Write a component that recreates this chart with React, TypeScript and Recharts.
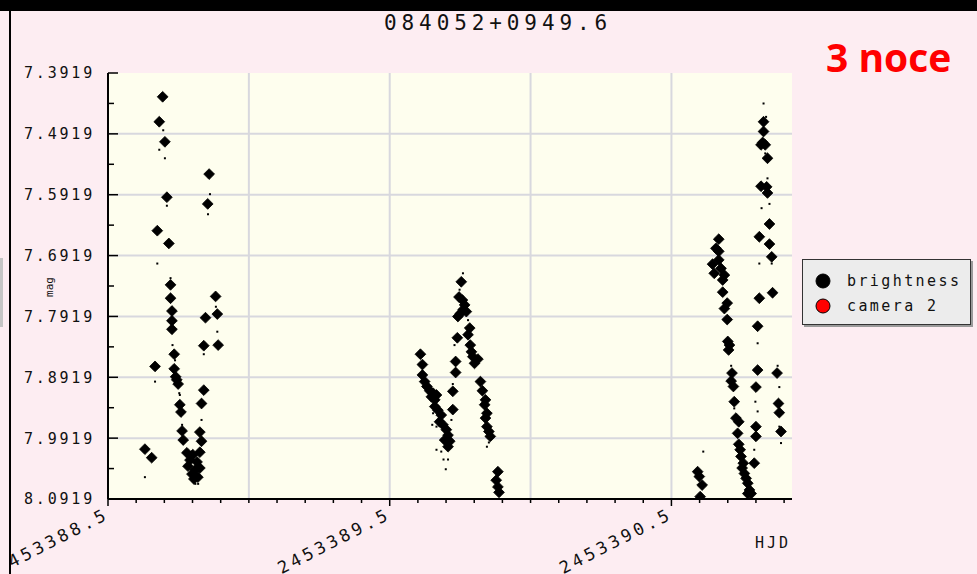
import React from 'react';
import { ScatterChart, Scatter, XAxis, YAxis, CartesianGrid, Legend } from 'recharts';

// HJD values are stored as offsets from this base day
const HJD_BASE = 2453388;
const X_DOMAIN: [number, number] = [0.5, 2.928];
const Y_DOMAIN: [number, number] = [7.3919, 8.0919];

const xTicks = [0.5, 0.6, 0.7, 0.8, 0.9, 1.0, 1.1, 1.2, 1.3, 1.4, 1.5, 1.6, 1.7, 1.8, 1.9, 2.0, 2.1, 2.2, 2.3, 2.4, 2.5, 2.6, 2.7, 2.8, 2.9];
const xMajorTicks = [0.5, 1.5, 2.5];
const xGridValues = [1.0, 1.5, 2.0, 2.5];

const yTicks = [7.3919, 7.4419, 7.4919, 7.5419, 7.5919, 7.6419, 7.6919, 7.7419, 7.7919, 7.8419, 7.8919, 7.9419, 7.9919, 8.0419, 8.0919];
const yMajorTicks = [7.3919, 7.4919, 7.5919, 7.6919, 7.7919, 7.8919, 7.9919, 8.0919];
const yGridValues = [7.4919, 7.5919, 7.6919, 7.7919, 7.8919, 7.9919];

const seriesNames = ['brightness', 'camera 2'];

// night 1 — brightness (large markers)
const night1Brightness: [number, number][] = [
  [0.694, 7.431], [0.682, 7.472], [0.702, 7.505], [0.859, 7.558], [0.709, 7.596], [0.854, 7.607],
  [0.675, 7.651], [0.716, 7.672], [0.722, 7.740], [0.722, 7.762], [0.882, 7.759], [0.727, 7.783],
  [0.888, 7.788], [0.727, 7.799], [0.846, 7.794], [0.727, 7.813], [0.840, 7.840], [0.891, 7.839],
  [0.735, 7.854], [0.667, 7.874], [0.735, 7.878], [0.740, 7.891], [0.744, 7.896], [0.749, 7.903],
  [0.840, 7.913], [0.755, 7.937], [0.832, 7.935], [0.759, 7.949], [0.763, 7.980], [0.767, 7.995],
  [0.826, 7.982], [0.832, 7.997], [0.631, 8.010], [0.655, 8.024], [0.780, 8.016], [0.801, 8.019],
  [0.826, 8.015], [0.791, 8.028], [0.816, 8.031], [0.784, 8.038], [0.809, 8.044], [0.826, 8.041],
  [0.798, 8.051], [0.819, 8.056], [0.805, 8.059],
];
// night 1 — single measurements (small dots)
const night1Single: [number, number][] = [
  [0.696, 7.486], [0.682, 7.518], [0.702, 7.532], [0.862, 7.591], [0.855, 7.624], [0.709, 7.610],
  [0.675, 7.705], [0.722, 7.729], [0.667, 7.899], [0.729, 7.839], [0.738, 7.864], [0.753, 7.918],
  [0.763, 7.970], [0.832, 7.962], [0.631, 8.056], [0.810, 8.067], [0.820, 8.067], [0.840, 7.854],
  [0.888, 7.817], [0.883, 7.776], [0.755, 7.921],
];

// night 2
const night2Brightness: [number, number][] = [
  [1.754, 7.735], [1.746, 7.760], [1.758, 7.765], [1.766, 7.773], [1.760, 7.781], [1.772, 7.784],
  [1.742, 7.792], [1.751, 7.787], [1.784, 7.811], [1.778, 7.822], [1.740, 7.827], [1.786, 7.839],
  [1.790, 7.850], [1.795, 7.858], [1.813, 7.862], [1.801, 7.869], [1.609, 7.854], [1.616, 7.871],
  [1.734, 7.866], [1.734, 7.884], [1.616, 7.888], [1.624, 7.899], [1.632, 7.907], [1.642, 7.914],
  [1.654, 7.918], [1.666, 7.921], [1.648, 7.924], [1.660, 7.929], [1.724, 7.915], [1.822, 7.899],
  [1.829, 7.914], [1.660, 7.940], [1.671, 7.946], [1.683, 7.954], [1.677, 7.965], [1.689, 7.970],
  [1.724, 7.945], [1.840, 7.929], [1.837, 7.937], [1.845, 7.951], [1.840, 7.959], [1.701, 7.978],
  [1.707, 7.987], [1.695, 7.995], [1.713, 7.997], [1.707, 8.006], [1.845, 7.973], [1.852, 7.981],
  [1.857, 7.989], [1.884, 8.047], [1.878, 8.061], [1.884, 8.072], [1.888, 8.081],
];
const night2Single: [number, number][] = [
  [1.760, 7.721], [1.748, 7.748], [1.778, 7.798], [1.730, 7.839], [1.654, 7.951], [1.666, 7.973],
  [1.651, 7.970], [1.666, 8.011], [1.683, 8.014], [1.691, 8.027], [1.707, 8.027], [1.699, 8.043],
  [1.719, 7.962], [1.845, 8.006], [1.852, 7.999], [1.724, 7.903],
];

// night 3
const night3Brightness: [number, number][] = [
  [2.827, 7.472], [2.827, 7.488], [2.824, 7.506], [2.833, 7.510], [2.818, 7.510], [2.841, 7.532],
  [2.818, 7.578], [2.838, 7.579], [2.841, 7.589], [2.848, 7.640], [2.812, 7.661], [2.848, 7.673],
  [2.856, 7.694], [2.668, 7.665], [2.658, 7.680], [2.668, 7.685], [2.668, 7.699], [2.646, 7.706],
  [2.676, 7.713], [2.652, 7.721], [2.688, 7.724], [2.682, 7.732], [2.682, 7.752], [2.812, 7.762],
  [2.859, 7.753], [2.698, 7.770], [2.688, 7.779], [2.698, 7.797], [2.806, 7.808], [2.700, 7.833],
  [2.706, 7.839], [2.703, 7.847], [2.715, 7.885], [2.712, 7.898], [2.720, 7.907], [2.806, 7.880],
  [2.800, 7.908], [2.875, 7.885], [2.880, 7.935], [2.883, 7.950], [2.889, 7.981], [2.723, 7.932],
  [2.729, 7.959], [2.739, 7.965], [2.735, 7.984], [2.800, 7.973], [2.800, 7.989], [2.739, 8.002],
  [2.744, 8.011], [2.747, 8.022], [2.755, 8.033], [2.751, 8.041], [2.759, 8.050], [2.765, 8.058],
  [2.771, 8.066], [2.777, 8.077], [2.771, 8.083], [2.783, 8.083], [2.794, 8.033], [2.593, 8.047],
  [2.599, 8.055], [2.609, 8.069], [2.602, 8.088],
];
const night3Single: [number, number][] = [
  [2.827, 7.442], [2.836, 7.464], [2.833, 7.524], [2.841, 7.565], [2.848, 7.607], [2.820, 7.614],
  [2.812, 7.705], [2.856, 7.705], [2.806, 7.836], [2.712, 7.873], [2.883, 7.908], [2.798, 7.932],
  [2.806, 7.948], [2.723, 7.943], [2.877, 7.873], [2.883, 7.973], [2.889, 8.000], [2.794, 8.011],
  [2.613, 8.014], [2.702, 7.852],
];

const camera2Points: [number, number][] = [];

const toRows = (pts: [number, number][]) => pts.map(([t, mag]) => ({ t, mag }));
const brightnessData = toRows([...night1Brightness, ...night2Brightness, ...night3Brightness]);
const singleData = toRows([...night1Single, ...night2Single, ...night3Single]);
const camera2Data = toRows(camera2Points);

const MONO = '"DejaVu Sans Mono", monospace';
const PINK = '#fdedf2';

const Diamond = (props: any) => {
  const { cx, cy, fill } = props;
  if (cx == null || cy == null) return null;
  const r = 5.4;
  return (
    <polygon
      points={`${cx},${cy - r} ${cx + r},${cy} ${cx},${cy + r} ${cx - r},${cy}`}
      fill={fill}
      stroke={fill}
      strokeWidth={0.8}
      strokeLinejoin="round"
    />
  );
};

const SmallDot = (props: any) => {
  const { cx, cy } = props;
  if (cx == null || cy == null) return null;
  return <rect x={cx - 1} y={cy - 1} width={2} height={2} fill="#000" />;
};

const XTick = (props: any) => {
  const { x, y, payload } = props;
  const major = xMajorTicks.includes(payload.value);
  const lx = x + 2;
  const ly = y + 19;
  return (
    <g>
      <line x1={x} y1={y} x2={x} y2={y + (major ? 7 : 4)} stroke="#000" strokeWidth={1.5} />
      {major && (
        <text
          x={lx}
          y={ly}
          transform={`rotate(-27 ${lx} ${ly})`}
          textAnchor="end"
          fontFamily={MONO}
          fontSize={17}
          letterSpacing={3.5}
          fill="#111"
        >
          {(HJD_BASE + payload.value).toFixed(1)}
        </text>
      )}
    </g>
  );
};

const YTick = (props: any) => {
  const { x, y, payload } = props;
  const major = yMajorTicks.includes(payload.value);
  return (
    <g>
      <line x1={x} y1={y} x2={x + (major ? 10 : 6)} y2={y} stroke="#000" strokeWidth={1.5} />
      {major && (
        <text
          x={x - 13}
          y={y}
          dy="0.36em"
          textAnchor="end"
          fontFamily={MONO}
          fontSize={15}
          letterSpacing={2.8}
          fill="#111"
        >
          {payload.value.toFixed(4)}
        </text>
      )}
    </g>
  );
};

const LegendBox = (props: any) => {
  const items = (props.payload || []).filter((p: any) => seriesNames.includes(p.value));
  return (
    <div
      style={{
        width: 169,
        height: 66,
        background: '#ececec',
        border: '1.5px solid #333',
        boxShadow: '2px 2px 0 #9a9a9a',
        boxSizing: 'border-box',
        paddingTop: 8,
      }}
    >
      {items.map((it: any) => (
        <div key={it.value} style={{ display: 'flex', alignItems: 'center', height: 25 }}>
          <svg width={44} height={20} style={{ flex: 'none' }}>
            <circle cx={20} cy={10} r={7} fill={it.color} stroke="#000" strokeWidth={1} />
          </svg>
          <span style={{ fontFamily: MONO, fontSize: 15, letterSpacing: 2.4, color: '#111' }}>{it.value}</span>
        </div>
      ))}
    </div>
  );
};

export default function App() {
  return (
    <div style={{ position: 'absolute', left: 0, top: 0, width: 977, height: 574, background: PINK, overflow: 'hidden' }}>
      <div style={{ position: 'absolute', left: 11, top: 0, width: 966, height: 574, overflow: 'hidden' }}>
        <div style={{ position: 'absolute', left: -11, top: 0 }}>
          <ScatterChart width={977} height={574} margin={{ top: 73, right: 185, bottom: 74, left: 107 }}>
            <CartesianGrid
              fill="#fefeee"
              fillOpacity={1}
              stroke="#d8d8de"
              strokeWidth={2}
              horizontalValues={yGridValues}
              verticalValues={xGridValues}
            />
            <XAxis
              type="number"
              dataKey="t"
              domain={X_DOMAIN}
              ticks={xTicks}
              allowDataOverflow
              height={1}
              tickSize={0}
              tickMargin={0}
              tickLine={false}
              interval={0}
              axisLine={{ stroke: '#000', strokeWidth: 2 }}
              tick={<XTick />}
            />
            <YAxis
              type="number"
              dataKey="mag"
              domain={Y_DOMAIN}
              ticks={yTicks}
              reversed
              allowDataOverflow
              width={1}
              tickSize={0}
              tickMargin={0}
              tickLine={false}
              interval={0}
              axisLine={{ stroke: '#000', strokeWidth: 2 }}
              tick={<YTick />}
            />
            <Legend
              layout="vertical"
              verticalAlign="middle"
              align="center"
              wrapperStyle={{ position: 'absolute', left: 802, top: 259, width: 171, height: 68 }}
              content={<LegendBox />}
            />
            <Scatter name="single" data={singleData} fill="#000" shape={<SmallDot />} legendType="none" isAnimationActive={false} />
            <Scatter name="brightness" data={brightnessData} fill="#000" shape={<Diamond />} isAnimationActive={false} />
            <Scatter name="camera 2" data={camera2Data} fill="#ff0000" shape={<Diamond />} isAnimationActive={false} />
          </ScatterChart>
        </div>
      </div>
      <div style={{ position: 'absolute', left: 0, top: 0, width: 977, height: 11, background: '#000' }} />
      <div style={{ position: 'absolute', left: 8.5, top: 0, width: 2, height: 574, background: '#000' }} />
      <div style={{ position: 'absolute', left: 0, top: 258, width: 3, height: 69, background: '#c4c4c4' }} />
      <div
        style={{
          position: 'absolute', left: 384, top: 11, fontFamily: MONO, fontSize: 21, letterSpacing: 4.9,
          color: '#111', whiteSpace: 'nowrap', lineHeight: '24px',
        }}
      >
        084052+0949.6
      </div>
      <div
        style={{
          position: 'absolute', left: 826, top: 37, fontFamily: '"Open Sans", sans-serif', fontWeight: 700,
          fontSize: 39, lineHeight: 1, color: '#ff0000', whiteSpace: 'nowrap',
        }}
      >
        3 noce
      </div>
      <div
        style={{
          position: 'absolute', left: 49, top: 287, transform: 'translate(-50%, -50%) rotate(-90deg)',
          fontFamily: MONO, fontSize: 11, color: '#111', whiteSpace: 'nowrap', lineHeight: 1,
        }}
      >
        mag
      </div>
      <div
        style={{
          position: 'absolute', left: 755, top: 534, fontFamily: MONO, fontSize: 15, letterSpacing: 3,
          color: '#111', whiteSpace: 'nowrap', lineHeight: '18px',
        }}
      >
        HJD
      </div>
    </div>
  );
}
